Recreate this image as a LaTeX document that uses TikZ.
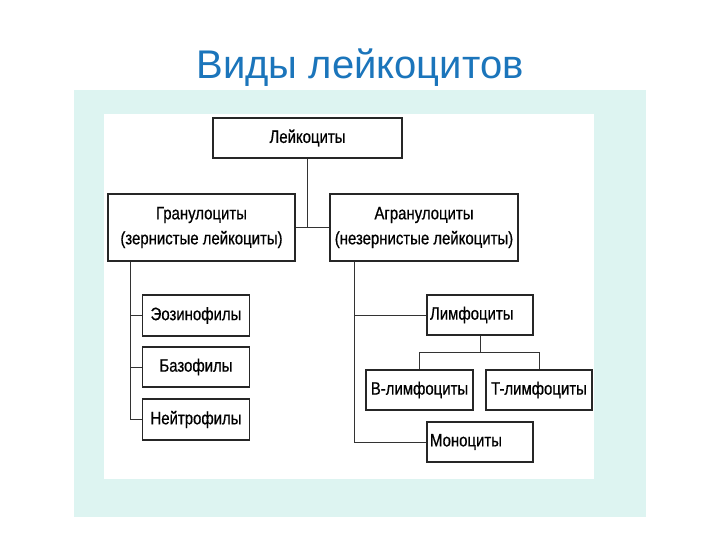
\documentclass[tikz,border=0pt]{standalone}
\usepackage{fontspec}
\setmainfont{Liberation Sans}
\newfontfamily\narrowsans[FakeStretch=0.83,FakeBold=0.6]{Liberation Sans}
\definecolor{bgcyan}{HTML}{DDF4F1}
\definecolor{titleblue}{HTML}{1B75BB}
\tikzset{
  box/.style={draw=black!85, line width=1.2pt, fill=white, inner sep=0pt, minimum height=40pt, align=center, font=\narrowsans\fontsize{18}{25}\selectfont},
  lbox/.style={box, text width=100pt, align=left, inner xsep=3pt},
  link/.style={draw=black!80, line width=1pt},
}
\begin{document}
\begin{tikzpicture}[x=1pt,y=-1pt]
\useasboundingbox (0,0) rectangle (720,540);
\fill[white] (0,0) rectangle (720,540);
\fill[bgcyan] (74,90) rectangle (646,517);
\fill[white] (104,114) rectangle (594,479);
\node[text=titleblue, font=\fontsize{40}{46}\selectfont] (title) at (360,68) {Виды лейкоцитов};

\node[box, minimum width=189pt] (leuk) at (307.5,138) {Лейкоциты};
\node[box, minimum width=187pt, minimum height=67pt] (gran) at (201.5,227.5) {Гранулоциты\\(зернистые лейкоциты)};
\node[box, minimum width=188pt, minimum height=67pt] (agran) at (424,227.5) {Агранулоциты\\(незернистые лейкоциты)};
\node[box, minimum width=107pt, minimum height=41pt] (eoz) at (196,315.5) {Эозинофилы};
\node[box, minimum width=107pt] (baz) at (196,367) {Базофилы};
\node[box, minimum width=107pt, minimum height=41pt] (neut) at (196,419.5) {Нейтрофилы};
\node[lbox] (lymph) at (480,315) {Лимфоциты};
\node[box, minimum width=107pt] (blym) at (419.5,390) {B-лимфоциты};
\node[box, minimum width=106pt] (tlym) at (539,390) {T-лимфоциты};
\node[lbox] (mono) at (480,442) {Моноциты};

\coordinate (lv) at (130,0);
\coordinate (rv) at (354,0);
\coordinate (lj) at (480,352);

\draw[link] (leuk.south) -- (leuk.south |- gran.east);
\draw[link] (gran.east) -- (agran.west);
\draw[link] (lv |- gran.south) -- (lv |- neut.west) -- (neut.west);
\draw[link] (lv |- eoz.west) -- (eoz.west);
\draw[link] (lv |- baz.west) -- (baz.west);
\draw[link] (rv |- agran.south) -- (rv |- mono.west) -- (mono.west);
\draw[link] (rv |- lymph.west) -- (lymph.west);
\draw[link] (lymph.south) -- (lj);
\draw[link] (blym.north) -- (blym.north |- lj) -- (tlym.north |- lj) -- (tlym.north);
\end{tikzpicture}
\end{document}
